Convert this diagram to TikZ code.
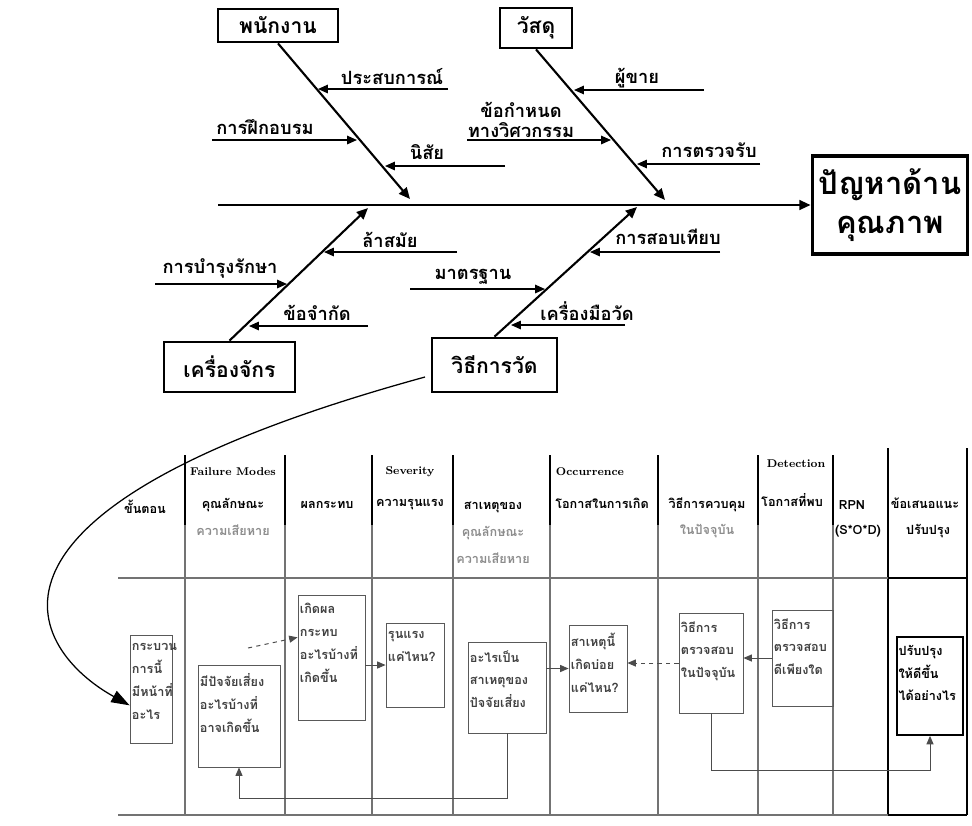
\documentclass[tikz,border=0pt]{standalone}
\usepackage{fontspec}
\newfontfamily\thaifont[Script=Thai]{Loma}
\usetikzlibrary{arrows.meta}
\usetikzlibrary{calc}
\usetikzlibrary{fit}

\tikzset{
  cause/.style={draw,line width=2pt,inner sep=0pt,font=\thaifont\bfseries\fontsize{15}{15}\selectfont},
  effect/.style={draw,line width=2.8pt,inner sep=0pt,align=center,font=\thaifont\bfseries\fontsize{22}{28}\selectfont},
  sublab/.style={font=\thaifont\bfseries\fontsize{13}{14}\selectfont,align=center},
  bone/.style={line width=1.5pt,-{Triangle[length=8pt,width=7pt]}},
  rib/.style={line width=1pt,-{Triangle[length=7pt,width=6pt]}},
  colhead/.style={font=\thaifont\bfseries\fontsize{9}{9}\selectfont},
  enghead/.style={font=\bfseries\fontsize{8}{8}\selectfont},
  greyhead/.style={colhead,text=black!45},
  stepbox/.style={draw=black!65,line width=0.6pt,inner sep=0pt},
  steptext/.style={anchor=north west,align=left,inner xsep=1.5pt,inner ysep=6pt,text=black!75,font=\thaifont\bfseries\fontsize{9}{16.3}\selectfont},
  flow/.style={draw=black!70,line width=0.7pt,-{Triangle[length=6pt,width=5pt]}},
}

\begin{document}
\begin{tikzpicture}[x=0.025cm,y=-0.025cm]
\useasboundingbox (0,0) rectangle (972,825);
% fishbone: head and spine
\node[effect,minimum width=155*0.025cm,minimum height=98*0.025cm] (head) at (890,205) {ปัญหาด้าน\\คุณภาพ};
\coordinate (tail) at (218,205);
\draw[bone] (tail) -- (tail -| head.west);
% main causes
\node[cause,minimum width=120*0.025cm,minimum height=33*0.025cm] (emp) at (278,25.5) {พนักงาน};
\node[cause,minimum width=72*0.025cm,minimum height=40*0.025cm] (mat) at (536,28) {วัสดุ};
\node[cause,minimum width=131*0.025cm,minimum height=50*0.025cm] (mach) at (229.5,367) {เครื่องจักร};
\node[cause,minimum width=125*0.025cm,minimum height=54*0.025cm] (meas) at (494.5,365) {วิธีการวัด};
\coordinate (j1) at (410,199);
\coordinate (j2) at (665,200);
\coordinate (j3) at (368,208);
\coordinate (j4) at (637,207);
\draw[bone] (emp.south) -- (j1);
\draw[bone] (mat.south) -- (j2);
\draw[bone] (mach.north) -- (j3);
\draw[bone] (meas.north) -- (j4);
% sub causes
\foreach \n/\sx/\tx/\yy in {p1/448/318/89, p2/212/357/140, p3/505/385/166,
    q1/704/574/90, q2/467/611/140, q3/760/637/164,
    r1/457/324/252, r2/155/287/284, r3/368/249/326,
    s1/720/590/252, s2/410/545/289, s3/625/511/325}{
  \coordinate (\n s) at (\sx,\yy);
  \coordinate (\n t) at (\tx,\yy);
  \draw[rib] (\n s) -- (\n t);
}
\node[sublab] (lp1) at (392,77) {ประสบการณ์};
\node[sublab] (lp2) at (265,127) {การฝึกอบรม};
\node[sublab] (lp3) at (427,152) {นิสัย};
\node[sublab] (lq1) at (637,78) {ผู้ขาย};
\node[sublab] (lq2) at (521,120) {ข้อกำหนด\\ทางวิศวกรรม};
\node[sublab] (lq3) at (709,150) {การตรวจรับ};
\node[sublab] (lr1) at (390,240) {ล้าสมัย};
\node[sublab] (lr2) at (220,268) {การบำรุงรักษา};
\node[sublab] (lr3) at (317,313) {ข้อจำกัด};
\node[sublab] (ls1) at (668,237) {การสอบเทียบ};
\node[sublab] (ls2) at (473,277) {มาตรฐาน};
\node[sublab] (ls3) at (587,311) {เครื่องมือวัด};

% FMEA table
\foreach \cx in {185,285,372,453,550,658,758,833}{
  \draw[line width=1.1pt] (\cx,455) -- (\cx,525);
  \draw[black!55,line width=0.8pt] (\cx,525) -- (\cx,815);
}
\draw[line width=1.3pt] (888,448) -- (888,815) (967,448) -- (967,815);
\draw[black!55,line width=1.2pt] (118,578) -- (888,578) (118,815) -- (888,815);
\draw[line width=1.6pt] (888,578) -- (967,578) (888,815) -- (967,815);
\node[colhead] (h1) at (145,507) {ขั้นตอน};
\node[enghead] (h2e) at (233,472) {Failure Modes};
\node[colhead] (h2) at (233,505) {คุณลักษณะ};
\node[greyhead] (h2g) at (233,530) {ความเสียหาย};
\node[colhead] (h3) at (327,505) {ผลกระทบ};
\node[enghead] (h4e) at (410,472) {Severity};
\node[colhead] (h4) at (410,505) {ความรุนแรง};
\node[colhead] (h5) at (493,507) {สาเหตุของ};
\node[greyhead] (h5g) at (493,533) {คุณลักษณะ};
\node[greyhead] (h5h) at (493,558) {ความเสียหาย};
\node[enghead] (h6e) at (590,472) {Occurrence};
\node[colhead] (h6) at (602,503) {โอกาสในการเกิด};
\node[colhead] (h7) at (707,505) {วิธีการควบคุม};
\node[greyhead] (h7g) at (707,531) {ในปัจจุบัน};
\node[enghead] (h8e) at (796,464) {Detection};
\node[colhead] (h8) at (792,500) {โอกาสที่พบ};
\node[colhead] (h9) at (852,505) {RPN};
\node[colhead] (h9b) at (858,531) {(S*O*D)};
\node[colhead] (h10) at (925,503) {ข้อเสนอแนะ};
\node[colhead] (h10b) at (928,531) {ปรับปรุง};

% step boxes
\node[stepbox,fit={(130,635) (172,743)}] (b1) {};
\node[stepbox,fit={(198,665) (280,767)}] (b2) {};
\node[stepbox,fit={(298,595) (365,720)}] (b3) {};
\node[stepbox,fit={(386,623) (444,707)}] (b4) {};
\node[stepbox,fit={(468,642) (546,733)}] (b5) {};
\node[stepbox,fit={(569,625) (627,712)}] (b6) {};
\node[stepbox,fit={(679,613) (743,713)}] (b7) {};
\node[stepbox,fit={(772,610) (833,706)}] (b8) {};
\node[stepbox,draw=black,line width=1.2pt,fit={(897,637) (963,735)}] (b10) {};
\node[steptext] (t1) at (b1.north west) {กระบวน\\การนี้\\มีหน้าที่\\อะไร};
\node[steptext] (t2) at (b2.north west) {มีปัจจัยเสี่ยง\\อะไรบ้างที่\\อาจเกิดขึ้น};
\node[steptext] (t3) at (b3.north west) {เกิดผล\\กระทบ\\อะไรบ้างที่\\เกิดขึ้น};
\node[steptext] (t4) at (b4.north west) {รุนแรง\\แค่ไหน?};
\node[steptext] (t5) at (b5.north west) {อะไรเป็น\\สาเหตุของ\\ปัจจัยเสี่ยง};
\node[steptext] (t6) at (b6.north west) {สาเหตุนี้\\เกิดบ่อย\\แค่ไหน?};
\node[steptext] (t7) at (b7.north west) {วิธีการ\\ตรวจสอบ\\ในปัจจุบัน};
\node[steptext] (t8) at (b8.north west) {วิธีการ\\ตรวจสอบ\\ดีเพียงใด};
\node[steptext,text=black] (t10) at (b10.north west) {ปรับปรุง\\ให้ดีขึ้น\\ได้อย่างไร};

% links between the boxes
\coordinate (cv) at (425,377);
\draw[line width=0.9pt,-{Triangle[length=13pt,width=9pt]}] (cv) .. controls (-60,510) and (30,650) .. ($(b1.north west)!0.65!(b1.south west)$);
\coordinate (d2) at (248,648);
\draw[flow,dashed] (d2) -- ($(b3.north west)!0.34!(b3.south west)$);
\draw[flow] (b3.east |- b4.west) -- (b4.west);
\draw[flow] (b5.east |- b6.west) -- (b6.west);
\draw[flow,dashed] (b7.west) -- (b7.west -| b6.east);
\draw[flow] (b8.west) -- (b8.west -| b7.east);
\draw[flow] (b5.south) -- ++(0,65) -| (b2.south);
\draw[flow] (b7.south) -- ++(0,57) -| (b10.south);
\end{tikzpicture}
\end{document}
